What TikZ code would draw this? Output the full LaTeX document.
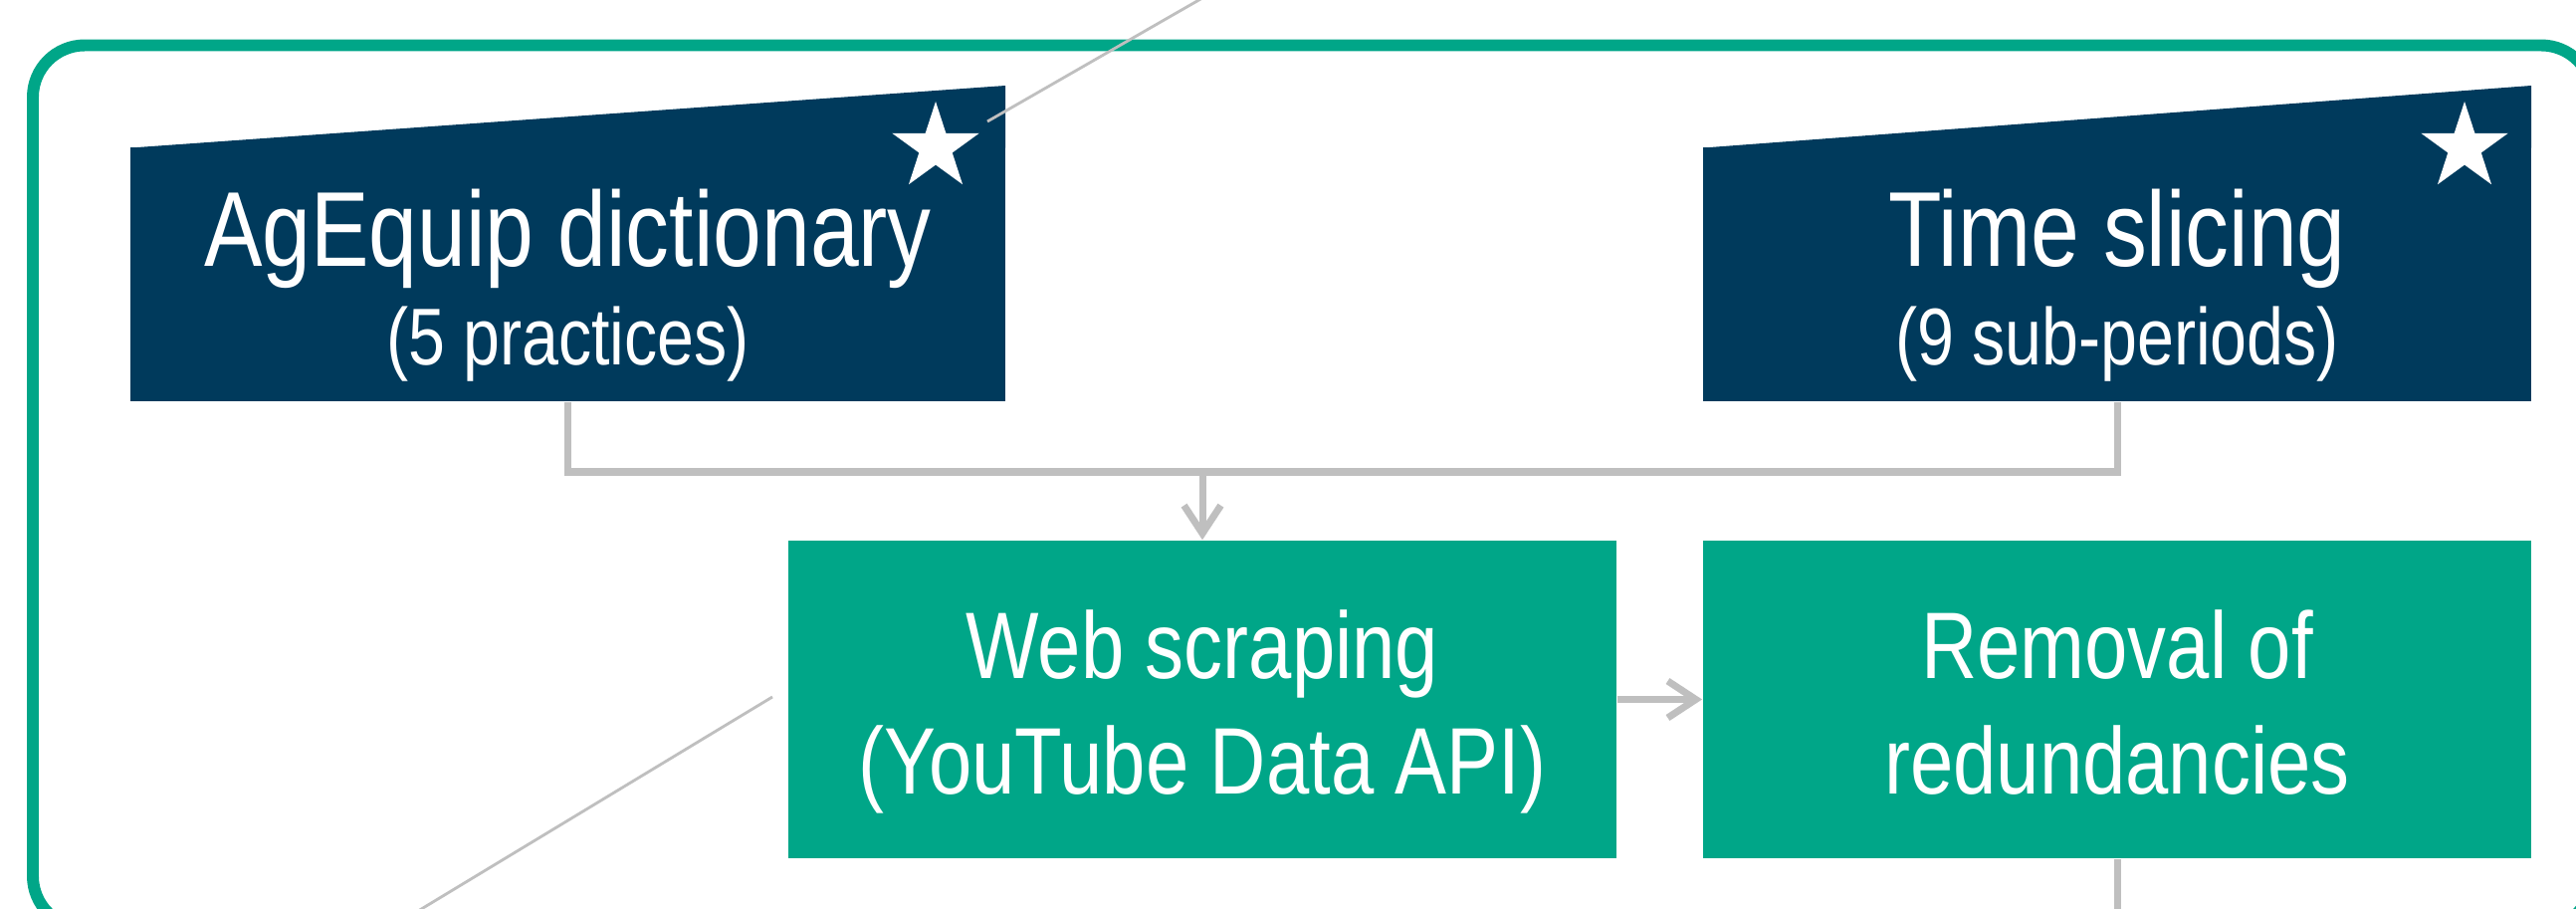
\documentclass[tikz,border=0pt]{standalone}
\usepackage{fontspec}
\setmainfont{Liberation Sans}[FakeStretch=0.82]
\usetikzlibrary{arrows.meta,shapes.geometric}
\definecolor{navy}{HTML}{003A5C}
\definecolor{teal}{HTML}{00A688}
\definecolor{conngray}{HTML}{BFBFBF}
\tikzset{
  navybox/.style={rectangle, fill=navy, draw=none, inner sep=0pt},
  greenbox/.style={rectangle, fill=teal, draw=none, inner sep=0pt},
  wtext/.style={text=white, inner sep=0pt, anchor=base},
  conn/.style={draw=conngray, line width=2pt},
  arr/.style={-{Straight Barb[length=8pt,width=10.5pt]}},
  thinline/.style={draw=conngray, line width=0.8pt},
  starmark/.style={star, star points=5, star point ratio=2.618, fill=white, draw=none, minimum size=0.92cm, inner sep=0pt},
  ttl/.style={font=\fontsize{30.4}{36}\selectfont},
  gtl/.style={font=\fontsize{27}{32}\selectfont},
  sub/.style={font=\fontsize{23}{28}\selectfont}
}
\begin{document}
\begin{tikzpicture}[x=0.01cm,y=-0.01cm]
\useasboundingbox (0,0) rectangle (2588,912);
\clip (0,0) rectangle (2588,912);
\fill[white] (0,0) rectangle (2588,912);
% frame
\draw[teal, line width=3.4pt, rounded corners=0.52cm] (33,45.5) rectangle (2605,932);
% dark boxes
\node[navybox, minimum width=8.79cm, minimum height=2.55cm] (ag) at (570.5,275.5) {};
\fill[navy] (131,148.5) -- (1010,86) -- (1010,148.5) -- cycle;
\node[navybox, minimum width=8.32cm, minimum height=2.55cm] (ts) at (2127,275.5) {};
\fill[navy] (1711,148.5) -- (2543,86) -- (2543,148.5) -- cycle;
\node[starmark] (agstar) at (940,148) {};
\node[starmark] (tsstar) at (2476,148) {};
% green boxes
\node[greenbox, minimum width=8.32cm, minimum height=3.19cm] (web) at (1208,702.5) {};
\node[greenbox, minimum width=8.32cm, minimum height=3.19cm] (rem) at (2127,702.5) {};
% texts
\node[wtext, ttl] (agt) at (570.5,267) {AgEquip dictionary};
\node[wtext, sub] (ags) at (570.5,366) {(5 practices)};
\node[wtext, ttl] (tst) at (2127,267) {Time slicing};
\node[wtext, sub] (tss) at (2127,366) {(9 sub-periods)};
\node[wtext, gtl] (webt) at (1208,681) {Web scraping};
\node[wtext, gtl] (webs) at (1208,797) {(YouTube Data API)};
\node[wtext, gtl] (remt) at (2127,681) {Removal of};
\node[wtext, gtl] (rems) at (2127,797) {redundancies};
% connectors
\coordinate (jn) at (1208,474);
\coordinate (remout) at (2127,930);
\draw[conn] (ag.south) |- (jn) -| (ts.south);
\draw[conn, arr] (jn) -- (web.north);
\draw[conn, arr] (web.east) -- (rem.west);
\draw[conn] (rem.south) -- (remout);
% thin diagonal lines
\coordinate (d1a) at (1208,-2);
\coordinate (d1b) at (992,122);
\coordinate (d2a) at (776,700);
\coordinate (d2b) at (420,915);
\draw[thinline] (d1a) -- (d1b);
\draw[thinline] (d2a) -- (d2b);
\end{tikzpicture}
\end{document}
